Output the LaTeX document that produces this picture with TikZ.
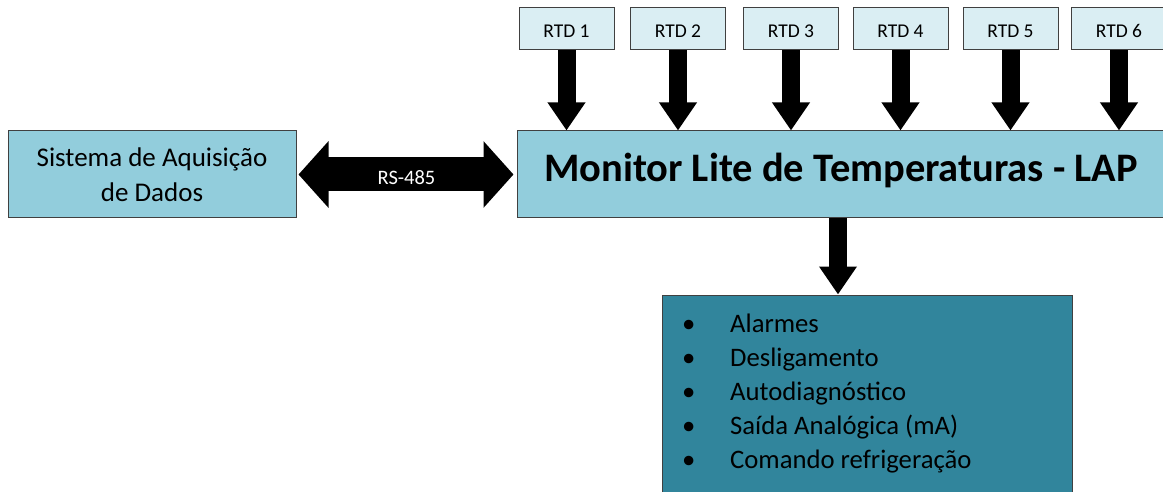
\documentclass[tikz,border=0pt]{standalone}
\usepackage{fontspec}
\setmainfont{Carlito}
\usetikzlibrary{arrows.meta,positioning}
\definecolor{rtdfill}{HTML}{DAEEF3}
\definecolor{monfill}{HTML}{92CDDC}
\definecolor{outfill}{HTML}{31859C}
\newcommand{\nudge}[2]{\raisebox{#1}[\height][\depth]{#2}}

\begin{document}
\begin{tikzpicture}[x=1pt, y=-1pt,
    rtdbox/.style={rectangle, draw=black!75, line width=1pt, fill=rtdfill, minimum width=95pt, minimum height=42pt, inner sep=0pt, font=\fontsize{19.5}{23}\selectfont},
    mainbox/.style={rectangle, draw=black!75, line width=1pt, fill=monfill, minimum height=87pt, inner sep=0pt, align=center},
    outbox/.style={rectangle, draw=black!75, line width=1pt, fill=outfill, minimum width=410pt, minimum height=215pt, inner sep=0pt},
    itembox/.style={align=left, inner sep=0pt, font=\fontsize{26.7}{34}\selectfont},
    blockarrow/.style={line width=18pt, -{Triangle[width=36pt,length=28pt]}},
    busarrow/.style={line width=34pt, {Triangle[width=65pt,length=30pt]}-{Triangle[width=65pt,length=30pt]}},
    rslabel/.style={text=white, font=\fontsize{20.5}{24}\selectfont, yshift=-3pt}]

    % page frame
    \useasboundingbox (0,0) rectangle (1163,492);
    \clip (0,0) rectangle (1163,492);

    % Monitor box
    \node[mainbox, minimum width=648pt, font=\fontsize{40.5}{48}\selectfont\bfseries] (mon) at (841,174.5)
        {\nudge{4pt}{Monitor Lite de Temperaturas - LAP}};

    % Acquisition system box
    \node[mainbox, minimum width=288pt, font=\fontsize{27}{35}\selectfont] (sis) at (152,174.5)
        {\nudge{-2.5pt}{\begin{tabular}{@{}c@{}}Sistema de Aquisição\\de Dados\end{tabular}}};

    % RTD inputs
    \foreach \i/\x in {1/566.5, 2/678, 3/791, 4/900.5, 5/1010.5, 6/1119} {
        \node[rtdbox] (rtd\i) at (\x,29) {\nudge{-2pt}{RTD \i}};
        \draw[blockarrow] (rtd\i.south) -- (rtd\i.south |- mon.north);
    }

    % Outputs box
    \node[outbox] (out) at (867,402.5) {};
    \node[itembox, anchor=north west] (items) at (682,314) {
        \makebox[48pt][l]{\textbullet}Alarmes\\
        \makebox[48pt][l]{\textbullet}Desligamento\\
        \makebox[48pt][l]{\textbullet}Autodiagnóstico\\
        \makebox[48pt][l]{\textbullet}Saída Analógica (mA)\\
        \makebox[48pt][l]{\textbullet}Comando refrigeração
    };

    % Arrows
    \coordinate (tap) at (838,218);
    \draw[blockarrow] (tap) -- (tap |- out.north);
    \draw[busarrow, shorten <=2pt, shorten >=3pt] (sis.east) -- node[rslabel] (rs) {RS-485} (mon.west);

\end{tikzpicture}
\end{document}
